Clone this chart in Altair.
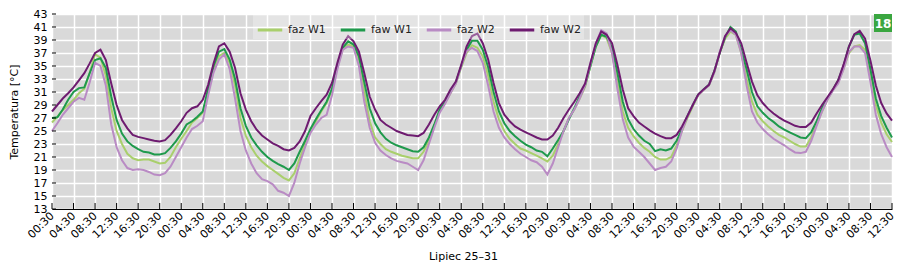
import altair as alt
import pandas as pd

series_names = ["faz W1", "faw W1", "faz W2", "faw W2"]
series_colors = ["#a9cf6c", "#1f9a4c", "#b98bc4", "#6e1b70"]
x_tick_values = list(range(0, 157, 4))
x_tick_labels = ["00:30", "04:30", "08:30", "12:30", "16:30", "20:30"] * 6 + ["00:30", "04:30", "08:30", "12:30"]
y_tick_values = list(range(13, 44, 2))
x_title = "Lipiec 25–31"
y_title = "Temperatura [°C]"
badge = "18"

# hourly readings, starting 25 July 00:30
faz_w1 = [
    26.3, 27.2, 28.2, 29.0, 29.8, 30.8, 31.5, 34.0, 36.8, 36.3, 33.5, 28.5, 25.0, 23.0, 21.5, 20.8, 20.5, 20.6, 20.6, 20.3, 20.0, 20.1, 21.0, 22.5,
    23.8, 25.0, 26.3, 27.0, 27.8, 31.0, 34.5, 36.5, 37.0, 35.5, 32.0, 27.0, 24.3, 22.5, 21.2, 20.3, 19.6, 19.0, 18.4, 17.8, 17.4, 18.5, 20.8, 23.0,
    25.0, 26.5, 28.0, 29.3, 31.3, 35.0, 37.5, 38.3, 38.0, 36.0, 31.0, 26.5, 24.0, 23.0, 22.2, 21.8, 21.5, 21.2, 21.0, 20.8, 20.8, 21.8, 23.5, 25.8,
    28.0, 29.3, 30.8, 32.3, 34.8, 37.0, 38.2, 37.8, 36.5, 33.5, 29.5, 26.8, 25.0, 23.8, 23.0, 22.3, 22.0, 21.6, 21.2, 20.8, 20.3, 21.2, 23.0, 25.0,
    27.0, 28.3, 30.0, 31.8, 35.0, 38.0, 39.8, 39.3, 37.0, 32.5, 28.0, 25.5, 24.2, 23.2, 22.4, 21.8, 21.0, 20.6, 20.6, 21.0, 22.8, 25.0, 27.0, 28.8,
    30.5, 31.3, 32.0, 34.0, 37.0, 39.2, 40.3, 39.8, 37.0, 33.0, 29.5, 27.5, 26.5, 25.7, 25.0, 24.4, 24.0, 23.5, 23.0, 22.6, 22.6, 24.0, 26.0, 28.0,
    29.8, 31.3, 32.5, 34.5, 37.0, 38.0, 38.2, 37.5, 33.5, 29.0, 26.3, 24.5, 23.3,
]
faw_w1 = [
    27.0, 27.1, 28.3, 29.8, 31.0, 31.6, 31.7, 33.9, 35.9, 36.2, 34.7, 30.3, 26.7, 24.6, 23.4, 22.7, 22.2, 21.8, 21.7, 21.4, 21.4, 21.6, 22.4, 23.4,
    24.6, 26.0, 26.5, 27.2, 28.0, 31.5, 35.0, 37.2, 37.6, 36.0, 33.0, 28.5, 25.8, 24.0, 22.8, 21.8, 21.0, 20.4, 19.9, 19.5, 19.0, 20.0, 21.8, 23.5,
    25.3, 26.8, 28.2, 29.5, 31.5, 35.0, 37.8, 38.8, 38.3, 36.5, 32.5, 28.5, 26.2, 24.8, 23.8, 23.2, 22.8, 22.5, 22.2, 21.9, 21.8, 22.5, 24.0, 26.0,
    28.3, 29.5, 31.0, 32.5, 35.0, 37.5, 38.9, 38.9, 37.5, 34.8, 31.0, 28.0, 26.2, 25.0, 24.2, 23.5, 22.9, 22.5, 22.0, 21.8, 21.1, 22.3, 23.6, 25.0,
    26.8, 28.5, 30.3, 32.0, 35.0, 38.0, 39.8, 39.5, 37.8, 34.0, 29.5, 26.8, 25.3, 24.3, 23.5, 23.0, 21.9, 22.2, 22.0, 22.3, 23.5, 25.3, 27.3, 29.0,
    30.6, 31.4, 32.1, 34.2, 37.0, 39.4, 41.0, 40.3, 37.5, 34.5, 31.0, 28.8, 27.8, 27.0, 26.4, 25.7, 25.2, 24.8, 24.4, 24.0, 23.9, 24.8, 26.5, 28.5,
    30.0, 31.3, 32.8, 35.0, 38.0, 39.8, 40.0, 38.5, 34.5, 30.0, 27.3, 25.5, 24.0,
]
faz_w2 = [
    25.0, 26.2, 27.5, 28.5, 29.5, 30.1, 29.8, 32.5, 35.5, 35.0, 32.0, 26.0, 22.5, 20.5, 19.3, 19.0, 19.1, 19.0, 18.7, 18.3, 18.2, 18.5, 19.5, 21.0,
    22.5, 24.0, 25.3, 25.8, 26.5, 30.5, 34.0, 36.0, 36.8, 34.5, 30.0, 25.0, 22.0, 20.0, 18.5, 17.6, 17.3, 16.8, 15.8, 15.5, 15.0, 17.0, 20.0, 22.5,
    24.7, 26.0, 27.0, 27.5, 30.5, 34.5, 37.5, 38.0, 37.8, 35.0, 29.5, 25.5, 23.2, 22.0, 21.3, 20.8, 20.4, 20.2, 20.0, 19.5, 19.0, 20.5, 23.0, 25.5,
    27.8, 29.2, 30.8, 32.3, 35.0, 37.3, 37.8, 37.3, 35.5, 32.0, 28.0, 25.5, 24.0, 23.0, 22.2, 21.5, 21.0, 20.5, 20.2, 19.5, 18.3, 20.0, 22.5, 25.0,
    27.0, 28.3, 30.0, 32.0, 35.3, 38.5, 40.5, 40.0, 37.0, 31.5, 26.8, 24.0, 22.6, 21.8, 21.0, 20.0, 19.0, 19.3, 19.5, 20.3, 22.3, 25.0, 27.2, 29.0,
    30.5, 31.3, 32.0, 34.0, 37.2, 39.6, 40.5, 39.8, 37.0, 32.0, 28.0, 26.3, 25.3, 24.5, 23.8, 23.3, 22.8, 22.2, 21.7, 21.6, 21.8, 23.5, 25.8, 28.0,
    29.8, 31.2, 32.3, 34.5, 37.2, 38.0, 38.0, 37.0, 32.5, 27.5, 24.5, 22.5, 21.0,
]
faw_w2 = [
    28.0, 29.0, 30.0, 30.8, 31.7, 32.8, 33.9, 35.4, 37.0, 37.5, 35.9, 32.3, 29.0, 26.7, 25.4, 24.4, 24.1, 23.9, 23.7, 23.5, 23.4, 23.6, 24.4, 25.4,
    26.5, 27.8, 28.5, 28.8, 29.8, 32.1, 35.4, 38.0, 38.5, 37.2, 34.7, 30.8, 28.3, 26.5, 25.2, 24.3, 23.7, 23.1, 22.7, 22.2, 22.0, 22.4, 23.4, 25.0,
    27.3, 28.5, 29.6, 30.6, 32.4, 35.5, 38.3, 39.6, 38.8, 37.2, 33.9, 30.3, 28.3, 26.7, 26.0, 25.5, 25.0, 24.7, 24.4, 24.3, 24.2, 24.7, 26.0, 27.5,
    28.8, 29.8, 31.4, 32.6, 35.2, 38.0, 39.6, 40.0, 38.5, 36.0, 32.4, 29.3, 27.5, 26.5, 25.7, 25.2, 24.8, 24.4, 24.0, 23.7, 23.7, 24.3, 25.5, 27.0,
    28.3, 29.5, 30.8, 32.3, 35.5, 38.5, 40.3, 39.8, 38.5, 35.2, 31.4, 28.5, 27.3, 26.3, 25.7, 25.1, 24.6, 24.2, 23.9, 23.9, 24.4, 25.7, 27.3, 29.0,
    30.6, 31.4, 32.1, 34.2, 37.0, 39.6, 40.8, 40.1, 38.5, 35.5, 32.6, 30.5, 29.3, 28.4, 27.7, 27.1, 26.6, 26.2, 25.8, 25.6, 25.6, 26.3, 27.7, 29.0,
    30.2, 31.4, 32.8, 35.2, 38.0, 39.9, 40.4, 39.2, 35.8, 32.0, 29.3, 27.7, 26.6,
]

all_series = [faz_w1, faw_w1, faz_w2, faw_w2]
rows = []
for name, vals in zip(series_names, all_series):
    for i, v in enumerate(vals):
        rows.append({"h": i, "t": v, "series": name})
df = pd.DataFrame(rows)

label_expr = "[" + ",".join("'%s'" % s for s in x_tick_labels) + "][datum.value / 4]"

W, H = 840, 195
FONT = "DejaVu Sans"

lines = alt.Chart(df).mark_line(strokeWidth=2).encode(
    x=alt.X("h:Q",
            scale=alt.Scale(domain=[0, 156], nice=False, zero=False),
            axis=alt.Axis(values=x_tick_values, tickCount=len(x_tick_values) + 2,
                          labelExpr=label_expr, labelAngle=-45,
                          labelAlign="right", labelBaseline="middle", ticks=False,
                          labelPadding=5, domainColor="black", domainWidth=1,
                          title=x_title, titleFontWeight="normal", titleFontSize=11,
                          titleFont=FONT, titleX=411, titleY=47, titleBaseline="middle",
                          labelOverlap=False, labelBound=False)),
    y=alt.Y("t:Q",
            scale=alt.Scale(domain=[13, 43], nice=False, zero=False),
            axis=alt.Axis(values=y_tick_values, tickCount=len(y_tick_values) + 2,
                          ticks=False, domain=False, labelPadding=5,
                          labelOverlap=False, labelBound=False,
                          title=y_title, titleFontWeight="normal", titleFontSize=11,
                          titleFont=FONT, titlePadding=14)),
    color=alt.Color("series:N",
                    scale=alt.Scale(domain=series_names, range=series_colors),
                    legend=alt.Legend(orient="none", legendX=201, legendY=-1,
                                      direction="horizontal", title=None,
                                      symbolType="stroke", symbolSize=600,
                                      symbolStrokeWidth=3, labelFontSize=11,
                                      labelFont=FONT, labelColor="#222",
                                      columnPadding=8, labelOffset=4,
                                      fillColor="rgba(255,255,255,0.3)", padding=3)),
)

xt = alt.Chart(pd.DataFrame({"h": x_tick_values})).mark_rule(color="black", strokeWidth=1).encode(
    x="h:Q", y=alt.value(H - 6), y2=alt.value(H)
)
yt = alt.Chart(pd.DataFrame({"t": y_tick_values})).mark_rule(color="black", strokeWidth=1).encode(
    y="t:Q", x=alt.value(0), x2=alt.value(4)
)

bdf = pd.DataFrame({"label": [badge]})
brect = alt.Chart(bdf).mark_rect(color="#3aa640").encode(
    x=alt.value(W - 18), x2=alt.value(W), y=alt.value(0), y2=alt.value(18)
)
btext = alt.Chart(bdf).mark_text(color="white", fontWeight="bold", fontSize=12, font=FONT,
                                 align="center", baseline="middle").encode(
    x=alt.value(W - 9), y=alt.value(9.5), text="label:N"
)

chart = alt.layer(lines, xt, yt, brect, btext).properties(
    width=W, height=H,
    autosize=alt.AutoSizeParams(type="none"),
    padding={"left": 52, "top": 14, "right": 8, "bottom": 57},
    background="white",
).configure_view(fill="#d9d9d9", strokeWidth=0).configure_axis(
    grid=True, gridColor="white", gridWidth=1.5, gridOpacity=1,
    labelFont=FONT, labelFontSize=11, labelColor="black", titleColor="black",
)

chart.save("out.html", embed_options={"renderer": "svg", "actions": False})
